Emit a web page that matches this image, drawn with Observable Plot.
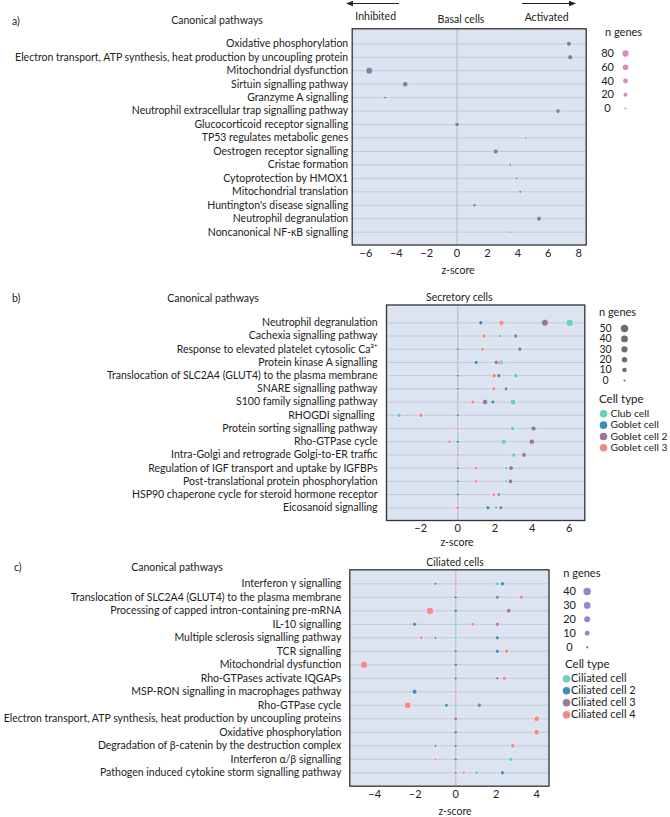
<!DOCTYPE html>
<html><head><meta charset="utf-8">
<script src="https://cdn.jsdelivr.net/npm/d3@7"></script>
<script src="https://cdn.jsdelivr.net/npm/@observablehq/plot@0.6"></script>
<style>
body{margin:0;background:#fff}
#root{position:relative;width:670px;height:817px;overflow:hidden;font-family:Lato,"Open Sans",sans-serif;color:#222}
.abs{position:absolute;left:0}
.t{position:absolute;white-space:nowrap;line-height:14px;font-size:11px}
</style></head><body><div id="root"></div>
<script>
// ---------- DATA ----------
const pathwaysA = ["Oxidative phosphorylation","Electron transport, ATP synthesis, heat production by uncoupling protein","Mitochondrial dysfunction","Sirtuin signalling pathway","Granzyme A signalling","Neutrophil extracellular trap signalling pathway","Glucocorticoid receptor signalling","TP53 regulates metabolic genes","Oestrogen receptor signalling","Cristae formation","Cytoprotection by HMOX1","Mitochondrial translation","Huntington's disease signalling","Neutrophil degranulation","Noncanonical NF-κB signalling"];
const zScoreA = [7.36, 7.45, -5.78, -3.41, -4.73, 6.64, 0, 4.53, 2.55, 3.5, 3.92, 4.16, 1.15, 5.39, 3.5];
const nGenesA = [40, 42, 100, 55, 4, 32, 32, 1, 40, 3, 3, 5, 10, 40, 1];
const sizeBreaksA = [80, 60, 40, 20, 0];

const pathwaysB = ["Neutrophil degranulation","Cachexia signalling pathway","Response to elevated platelet cytosolic Ca²⁺","Protein kinase A signalling","Translocation of SLC2A4 (GLUT4) to the plasma membrane","SNARE signalling pathway","S100 family signalling pathway","RHOGDI signalling\u00a0","Protein sorting signalling pathway","Rho-GTPase cycle","Intra-Golgi and retrograde Golgi-to-ER traffic","Regulation of IGF transport and uptake by IGFBPs","Post-translational protein phosphorylation","HSP90 chaperone cycle for steroid hormone receptor","Eicosanoid signalling"];
const cellTypesB = ["Club cell","Goblet cell","Goblet cell 2","Goblet cell 3"];
const zClubB    = [6.03, 2.26, null, 2.32, 3.12, null, 2.98, -3.16, 2.95, 2.48, 3.02, 2.6, 2.6, null, 2.07];
const nClubB    = [55, 4, null, 20, 12, null, 28, 10, 10, 20, 10, 3, 3, null, 6];
const zGobletB  = [1.24, null, 0, 0.99, 0, 0, 1.89, 0, null, 0, null, 0, 0, 0, 1.62];
const nGobletB  = [8, null, 1, 6, 1, 1, 6, 1, null, 2, null, 1, 1, 1, 6];
const zGoblet2B = [4.69, 3.12, 3.34, 2.07, 2.21, 2.6, 1.47, null, 4.08, 3.99, 3.57, 2.87, 2.84, 2.21, 2.32];
const nGoblet2B = [42, 8, 8, 8, 8, 6, 20, null, 15, 18, 12, 12, 12, 3, 6];
const zGoblet3B = [2.35, 1.40, 1.33, 2.19, 1.96, 1.94, 0.81, -1.99, 0, -0.45, 0, 0.97, 0.99, 1.94, 0];
const nGoblet3B = [18, 8, 6, 10, 10, 8, 8, 10, 2, 4, 2, 4, 4, 4, 6];
const sizeBreaksB = [50, 40, 30, 20, 10, 0];

const pathwaysC = ["Interferon γ signalling","Translocation of SLC2A4 (GLUT4) to the plasma membrane","Processing of capped intron-containing pre-mRNA","IL-10 signalling","Multiple sclerosis signalling pathway","TCR signalling","Mitochondrial dysfunction","Rho-GTPases activate IQGAPs","MSP-RON signalling in macrophages pathway","Rho-GTPase cycle","Electron transport, ATP synthesis, heat production by uncoupling proteins","Oxidative phosphorylation","Degradation of β-catenin by the destruction complex","Interferon α/β signalling","Pathogen induced cytokine storm signalling pathway"];
const cellTypesC = ["Ciliated cell","Ciliated cell 2","Ciliated cell 3","Ciliated cell 4"];
const zCil1C = [2.06, null, null, 0, 0, null, null, null, null, 0, null, null, null, 2.72, 1.04];
const nCil1C = [4, null, null, 2, 2, null, null, null, null, 1, null, null, null, 7, 4];
const zCil2C = [2.31, 0, 0, -2.03, 2.06, 2.06, null, 0, -2.03, -0.46, null, null, 0, null, 2.31];
const nCil2C = [5, 1, 2, 4, 4, 4, null, 1, 10, 3, null, null, 1, null, 5];
const zCil3C = [-1.0, 2.06, 2.62, 2.06, -1.0, 0, 0, 2.06, null, 1.17, 0, 0, -1.0, 0, 0];
const nCil3C = [1, 4, 7, 4, 1, 2, 3, 1, null, 6, 3, 3, 1, 2, 1];
const zCil4C = [0, 3.25, -1.27, 0.84, -1.70, 2.52, -4.53, 2.41, 0, -2.37, 4.0, 4.0, 2.82, -1.0, 0.40];
const nCil4C = [1, 5, 40, 4, 3, 6, 38, 6, 1, 30, 16, 16, 8, 1, 2];
const sizeBreaksC = [40, 30, 20, 10, 0];

const ticksA = [-6, -4, -2, 0, 2, 4, 6, 8];
const ticksB = [-2, 0, 2, 4, 6];
const ticksC = [-4, -2, 0, 2, 4];

// ---------- STYLE ----------
const FONT = 'Lato, "Open Sans", sans-serif';
const FS = 10.5;
const BG = "#dbe4f0", GRID = "#c2cad6", ZERO = "#bfc6cf", FRAME = "#333";
const colorA = "#7d7fa6", legendA = "#d98cc2";
const colorsB = ["#69d0bf", "#3b8dbd", "#957899", "#f38a8a"], legendB = "#6a6e72";
const colorsC = ["#6fd0c0", "#3d8fbd", "#9a7b9e", "#f28a8a"], legendC = "#9b82cf";

const root = document.getElementById("root");
function put(node, top, left = 0) {
  node.classList.add("abs"); node.style.top = top + "px"; node.style.left = left + "px";
  root.appendChild(node);
}
function label(text, x, y, anchor = "start", size = FS) {
  const d = document.createElement("div");
  d.className = "t"; d.textContent = text;
  d.style.left = x + "px"; d.style.top = (y - 7) + "px"; d.style.fontSize = size + "px";
  if (anchor === "middle") d.style.transform = "translateX(-50%)";
  if (anchor === "end") d.style.transform = "translateX(-100%)";
  root.appendChild(d);
}

function tidy(pathways, types, zs, ns) {
  const out = [];
  pathways.forEach((p, i) => types.forEach((t, k) => {
    if (zs[k][i] != null) out.push({pathway: p, type: t, z: zs[k][i], n: ns[k][i]});
  }));
  return out;
}

function panel({data, pathways, domain, ticks, rOpts, fill, colorScale, ml, mr, mt, mb, height, yRange, pad}) {
  return Plot.plot({
    width: 600, height,
    marginLeft: ml, marginRight: mr, marginTop: mt, marginBottom: mb,
    style: {fontFamily: FONT, fontSize: FS + "px", color: "#222", background: "transparent", overflow: "visible"},
    x: {domain, label: null},
    y: {type: "point", domain: pathways, range: yRange, padding: 0, round: false, label: null},
    r: rOpts,
    color: colorScale,
    marks: [
      Plot.frame({fill: BG, stroke: null}),
      Plot.ruleY(pathways, {stroke: GRID, strokeWidth: 1}),
      Plot.ruleX([0], {stroke: ZERO, strokeWidth: 1.5}),
      Plot.axisX({ticks, tickSize: 0, tickPadding: 4, label: null, fontSize: 11}),
      Plot.axisY({tickSize: 0, tickPadding: pad, label: null, fontSize: FS}),
      Plot.dot(data, {x: "z", y: "pathway", r: "n", fill, stroke: "white", strokeWidth: 0.6}),
      Plot.frame({stroke: FRAME, strokeWidth: 1.3})
    ]
  });
}

function sizeLegend({breaks, rOpts, color, labelX, dotX, y0, y1, height, fs = 11}) {
  return Plot.plot({
    width: 670, height, margin: 0,
    style: {fontFamily: FONT, fontSize: fs + "px", color: "#222", background: "transparent", overflow: "visible"},
    x: {type: "point", domain: ["label", "dot"], range: [labelX, dotX], padding: 0, round: false, axis: null},
    y: {type: "point", domain: breaks, range: [y0, y1], padding: 0, round: false, axis: null},
    r: rOpts,
    marks: [
      Plot.text(breaks, {x: () => "label", y: d => d, text: d => String(d), fontSize: fs}),
      Plot.dot(breaks, {x: () => "dot", y: d => d, r: d => d, fill: color})
    ]
  });
}

function typeLegend({types, colors, dotX, textX, y0, y1, height, fs = 11}) {
  return Plot.plot({
    width: 670, height, margin: 0,
    style: {fontFamily: FONT, fontSize: fs + "px", color: "#222", background: "transparent", overflow: "visible"},
    x: {type: "point", domain: ["dot", "text"], range: [dotX, textX], padding: 0, round: false, axis: null},
    y: {type: "point", domain: types, range: [y0, y1], padding: 0, round: false, axis: null},
    color: {domain: types, range: colors},
    marks: [
      Plot.dot(types, {x: () => "dot", y: d => d, r: 3.8, fill: d => d}),
      Plot.text(types, {x: () => "text", y: d => d, text: d => d, textAnchor: "start", fontSize: fs})
    ]
  });
}

// ---------- PANEL A ----------
const rA = {type: "sqrt", domain: [0, 100], range: [0.9, 3.4]};
const dataA = pathwaysA.map((p, i) => ({pathway: p, z: zScoreA[i], n: nGenesA[i]}));
put(panel({data: dataA, pathways: pathwaysA, domain: [-6.9, 8.5], ticks: ticksA, rOpts: rA, fill: colorA,
  ml: 351.7, mr: 14.3, mt: 28.3, mb: 20.5, height: 265, yRange: [43.3, 231.7], pad: 4}), 0);
put(sizeLegend({breaks: sizeBreaksA, rOpts: rA, color: legendA, labelX: 607, dotX: 625, y0: 53, y1: 108, height: 120}), 0);
label("a)", 12, 20.5);
label("Canonical pathways", 217, 20, "middle");
label("Inhibited", 375.7, 15.5, "middle");
label("Basal cells", 461, 19, "middle");
label("Activated", 546.7, 16.5, "middle");
label("n genes", 605, 32, "start", 11);
label("z-score", 458, 270, "middle");

// arrows
const ns = "http://www.w3.org/2000/svg";
const arr = document.createElementNS(ns, "svg");
arr.setAttribute("width", 670); arr.setAttribute("height", 10);
arr.innerHTML = '<line x1="399" y1="3.5" x2="352" y2="3.5" stroke="#222" stroke-width="1"/><path d="M346 3.5 L353 0.8 L353 6.2 Z" fill="#222"/>' +
  '<line x1="522" y1="3.5" x2="570" y2="3.5" stroke="#222" stroke-width="1"/><path d="M576 3.5 L569 0.8 L569 6.2 Z" fill="#222"/>';
arr.style.position = "absolute"; arr.style.top = "0px"; arr.style.left = "0px";
root.appendChild(arr);

// ---------- PANEL B ----------
const rB = {type: "sqrt", domain: [0, 55], range: [1.1, 3.8]};
const colB = {domain: cellTypesB, range: colorsB};
const dataB = tidy(pathwaysB, cellTypesB, [zClubB, zGobletB, zGoblet2B, zGoblet3B], [nClubB, nGobletB, nGoblet2B, nGoblet3B]);
put(panel({data: dataB, pathways: pathwaysB, domain: [-3.84, 6.84], ticks: ticksB, rOpts: rB, fill: "type", colorScale: colB,
  ml: 386, mr: 15.7, mt: 34.5, mb: 18, height: 268, yRange: [52.3, 237.3], pad: 9}), 270);
put(sizeLegend({breaks: sizeBreaksB, rOpts: rB, color: legendB, labelX: 605, dotX: 624, y0: 58, y1: 110, height: 120, fs: 10.5}), 270);
put(typeLegend({types: cellTypesB, colors: colorsB, dotX: 603, textX: 610, y0: 143.3, y1: 177.3, height: 190, fs: 10.3}), 270);
label("b)", 12, 297.5);
label("Canonical pathways", 213, 297.5, "middle");
label("Secretory cells", 459.3, 296.5, "middle");
label("n genes", 599, 312, "start", 11);
label("Cell type", 599, 399, "start", 11.5);
label("z-score", 457, 541.5, "middle");

// ---------- PANEL C ----------
const rC = {type: "sqrt", domain: [0, 45], range: [1.2, 3.9]};
const colC = {domain: cellTypesC, range: colorsC};
const dataC = tidy(pathwaysC, cellTypesC, [zCil1C, zCil2C, zCil3C, zCil4C], [nCil1C, nCil2C, nCil3C, nCil4C]);
put(panel({data: dataC, pathways: pathwaysC, domain: [-5.23, 4.61], ticks: ticksC, rOpts: rC, fill: "type", colorScale: colC,
  ml: 349.3, mr: 51.5, mt: 39.3, mb: 19.3, height: 275, yRange: [53.3, 242.3], pad: 8.5}), 530);
put(sizeLegend({breaks: sizeBreaksC, rOpts: rC, color: legendC, labelX: 569, dotX: 586.7, y0: 61, y1: 116.7, height: 130}), 530);
put(typeLegend({types: cellTypesC, colors: colorsC, dotX: 566, textX: 570.5, y0: 148.3, y1: 184.3, height: 200}), 530);
label("c)", 14, 566.5);
label("Canonical pathways", 177, 566.5, "middle");
label("Ciliated cells", 455, 561.5, "middle");
label("n genes", 563.3, 573.3, "start", 11);
label("Cell type", 565, 664.3, "start", 11.5);
label("z-score", 455, 810.5, "middle");
</script></body></html>
